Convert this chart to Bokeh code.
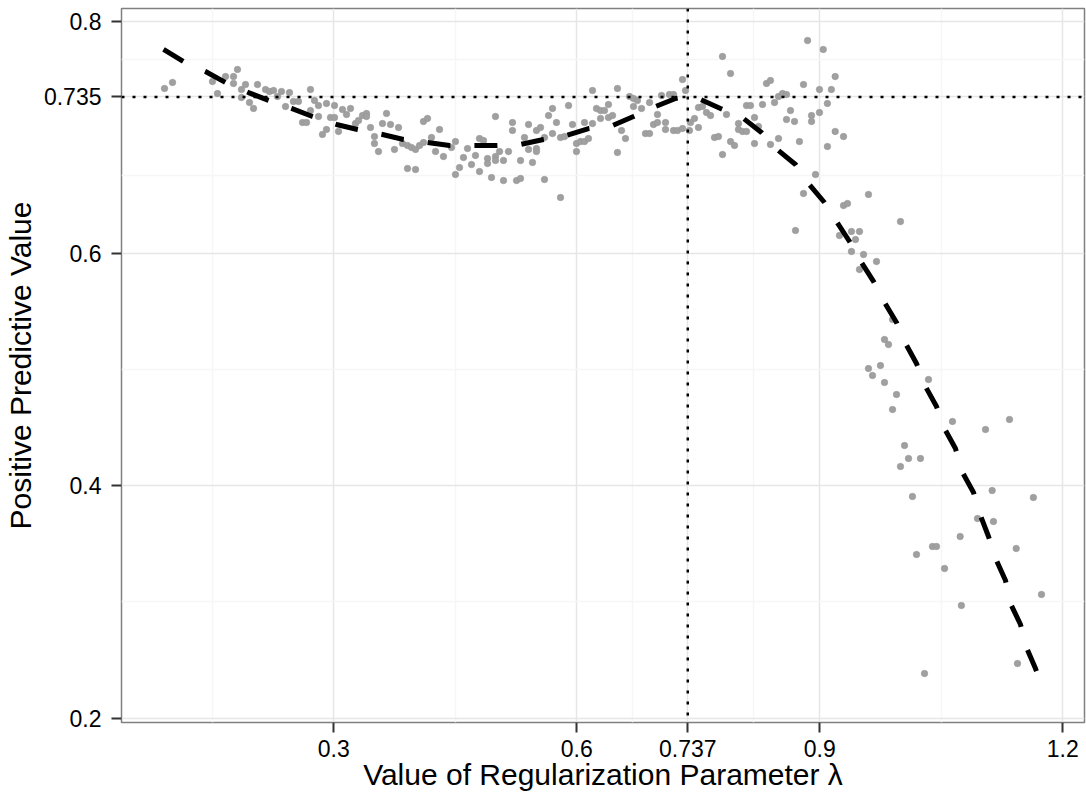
from bokeh.plotting import figure
from bokeh.models import FixedTicker, Span, Range1d, ColumnDataSource
from bokeh.embed import file_html
from bokeh.resources import INLINE

# ---- data ----
lam = [0.0910, 0.1009, 0.1502, 0.1564, 0.1663, 0.1762, 0.1811, 0.1762, 0.1860, 0.1910,
       0.1860, 0.1959, 0.2009, 0.2058, 0.2157, 0.2206, 0.2256, 0.2305, 0.2354, 0.2404,
       0.2453, 0.2502, 0.2564, 0.2614, 0.2663, 0.2712, 0.2762, 0.2712, 0.2811, 0.2811,
       0.2860, 0.2910, 0.2910, 0.2959, 0.3009, 0.3009, 0.3058, 0.3107, 0.3157, 0.3206,
       0.3268, 0.3305, 0.3354, 0.3404, 0.3404, 0.3453, 0.3502, 0.3502, 0.3552, 0.3601,
       0.3651, 0.3700, 0.3749, 0.3799, 0.3848, 0.3910, 0.3959, 0.4009, 0.3910, 0.4009,
       0.4058, 0.4107, 0.4107, 0.4157, 0.4206, 0.4256, 0.4305, 0.4354, 0.4453, 0.4502,
       0.4502, 0.4552, 0.4601, 0.4651, 0.4700, 0.4749, 0.4799, 0.4848, 0.4799, 0.4898,
       0.4898, 0.4947, 0.4996, 0.4996, 0.5046, 0.4996, 0.5095, 0.5095, 0.5157, 0.5206,
       0.5206, 0.5256, 0.5305, 0.5305, 0.5354, 0.5404, 0.5404, 0.5453, 0.5502, 0.5502,
       0.5502, 0.5552, 0.5601, 0.5601, 0.5651, 0.5700, 0.5700, 0.5749, 0.5799, 0.5799,
       0.5848, 0.5898, 0.5947, 0.5996, 0.5996, 0.6046, 0.6095, 0.6095, 0.6144, 0.6194,
       0.6194, 0.6243, 0.6293, 0.6293, 0.6342, 0.6391, 0.6391, 0.6441, 0.6502, 0.6502,
       0.6552, 0.6601, 0.6651, 0.6700, 0.6700, 0.6749, 0.6799, 0.6848, 0.6898, 0.6898,
       0.6947, 0.6996, 0.6996, 0.7046, 0.7095, 0.7095, 0.7144, 0.7194, 0.7194, 0.7243,
       0.7305, 0.7305, 0.7342, 0.7391, 0.7404, 0.7453, 0.7502, 0.7502, 0.7552, 0.7601,
       0.7651, 0.7700, 0.7749, 0.7799, 0.7799, 0.7848, 0.7898, 0.7898, 0.7947, 0.7996,
       0.7996, 0.8046, 0.8095, 0.8144, 0.8095, 0.8194, 0.8194, 0.8243, 0.8293, 0.8342,
       0.8391, 0.8391, 0.8441, 0.8490, 0.8490, 0.8540, 0.8589, 0.8589, 0.8638, 0.8688,
       0.8749, 0.8799, 0.8849, 0.8898, 0.8898, 0.8996, 0.8996, 0.9043, 0.9094, 0.9094,
       0.9143, 0.9190, 0.9190, 0.9293, 0.8947, 0.8799, 0.8700, 0.9601, 0.9293, 0.9342,
       0.9243, 0.9391, 0.9490, 0.9441, 0.9391, 0.9540, 0.9700, 0.9490, 0.9996, 0.9898,
       0.9799, 0.9848, 0.9601, 0.9749, 0.9651, 0.9799, 0.9947, 0.9898, 1.0342, 1.0046,
       1.0095, 1.0243, 0.9996, 1.0144, 1.0638, 1.1046, 1.1342, 1.1128, 1.1637, 1.0947,
       1.1144, 1.0733, 1.0391, 1.0441, 1.0194, 1.0540, 1.1425, 1.1737, 1.0748, 1.1441,
       1.0293]

ppv = [0.7423, 0.7475, 0.7483, 0.7380, 0.7526, 0.7526, 0.7587, 0.7466, 0.7414, 0.7457,
       0.7345, 0.7302, 0.7251, 0.7457, 0.7414, 0.7397, 0.7406, 0.7354, 0.7397, 0.7268,
       0.7388, 0.7311, 0.7311, 0.7130, 0.7130, 0.7414, 0.7320, 0.7233, 0.7276, 0.7182,
       0.7027, 0.7070, 0.7294, 0.7173, 0.7173, 0.7276, 0.7053, 0.7242, 0.7199, 0.7251,
       0.7121, 0.7147, 0.7190, 0.7208, 0.7182, 0.7087, 0.7009, 0.6949, 0.6880, 0.7121,
       0.7208, 0.7113, 0.6898, 0.7087, 0.6949, 0.6932, 0.6915, 0.6898, 0.6734, 0.6725,
       0.6932, 0.6958, 0.7139, 0.7165, 0.7001, 0.6880, 0.7070, 0.6837, 0.6915, 0.6966,
       0.6682, 0.6742, 0.6829, 0.6906, 0.6768, 0.6846, 0.6992, 0.6975, 0.6708, 0.6820,
       0.6777, 0.6656, 0.6837, 0.6803, 0.6880, 0.7182, 0.6803, 0.6630, 0.6880, 0.7130,
       0.7061, 0.6630, 0.6648, 0.6803, 0.7001, 0.7113, 0.6898, 0.6786, 0.7061, 0.6906,
       0.6880, 0.7087, 0.7001, 0.6639, 0.7190, 0.7251, 0.7035, 0.7130, 0.6484, 0.7001,
       0.7009, 0.7276, 0.7113, 0.6949, 0.6880, 0.6966, 0.6966, 0.7130, 0.6992, 0.7406,
       0.7121, 0.7251, 0.7233, 0.7165, 0.7233, 0.7285, 0.7173, 0.7190, 0.7423, 0.6872,
       0.7061, 0.6992, 0.7354, 0.7268, 0.7337, 0.7320, 0.7251, 0.7035, 0.7035, 0.7302,
       0.7113, 0.7199, 0.7130, 0.7363, 0.7130, 0.7070, 0.7371, 0.7371, 0.7061, 0.7061,
       0.7078, 0.7500, 0.7406, 0.7061, 0.7130, 0.7165, 0.7087, 0.7259, 0.7268, 0.7216,
       0.7190, 0.7001, 0.7009, 0.7699, 0.6854, 0.7199, 0.7552, 0.6966, 0.6932, 0.7121,
       0.7070, 0.7053, 0.7276, 0.7276, 0.7053, 0.7173, 0.6949, 0.7096, 0.7285, 0.7466,
       0.7492, 0.6941, 0.7302, 0.7354, 0.6992, 0.7380, 0.7371, 0.7156, 0.7233, 0.7139,
       0.6966, 0.7457, 0.7836, 0.7190, 0.7139, 0.7414, 0.7216, 0.7759, 0.7294, 0.6923,
       0.7414, 0.7526, 0.7053, 0.7009, 0.6682, 0.6519, 0.6200, 0.6510, 0.6415, 0.6432,
       0.6157, 0.6191, 0.6191, 0.6122, 0.6019, 0.5993, 0.5933, 0.5864, 0.6277, 0.5433,
       0.5261, 0.5218, 0.5011, 0.5037, 0.4951, 0.4891, 0.4787, 0.4658, 0.4916, 0.4348,
       0.4236, 0.4236, 0.4167, 0.3909, 0.4555, 0.4486, 0.4572, 0.3960, 0.3900, 0.3719,
       0.3693, 0.3564, 0.3478, 0.3478, 0.3409, 0.3289, 0.3461, 0.3065, 0.2970, 0.2470,
       0.2384]

smooth_lam = [0.0898, 0.1144, 0.1416, 0.1663, 0.1947, 0.2194, 0.2478, 0.2737, 0.3033, 0.3293,
              0.3601, 0.3861, 0.4157, 0.4429, 0.4737, 0.5009, 0.5305, 0.5589, 0.5873, 0.6145,
              0.6441, 0.6700, 0.6972, 0.7219, 0.7367, 0.7527, 0.7774, 0.8058, 0.8280, 0.8490,
              0.8700, 0.8860, 0.9058, 0.9206, 0.9367, 0.9515, 0.9663, 0.9799, 0.9947, 1.0058,
              1.0194, 1.0305, 1.0441, 1.0539, 1.0675, 1.0762, 1.0898, 1.0984, 1.1083, 1.1170,
              1.1293, 1.1354, 1.1478, 1.1552, 1.1663, 1.1774]
smooth_ppv = [0.7759, 0.7655, 0.7569, 0.7475, 0.7388, 0.7320, 0.7251, 0.7182, 0.7113, 0.7070,
              0.7027, 0.6984, 0.6958, 0.6932, 0.6932, 0.6932, 0.6941, 0.6984, 0.7018, 0.7078,
              0.7104, 0.7182, 0.7268, 0.7337, 0.7354, 0.7328, 0.7251, 0.7165, 0.7044, 0.6889,
              0.6768, 0.6605, 0.6441, 0.6277, 0.6105, 0.5924, 0.5761, 0.5580, 0.5407, 0.5227,
              0.5054, 0.4856, 0.4684, 0.4494, 0.4322, 0.4115, 0.3943, 0.3745, 0.3564, 0.3375,
              0.3185, 0.2987, 0.2806, 0.2608, 0.2427, 0.2220]

best_lambda = 0.737
best_ppv = 0.735

x_ticks = [0.3, 0.6, 0.737, 0.9, 1.2]
x_tick_labels = ["0.3", "0.6", "0.737", "0.9", "1.2"]
x_minor = [0.15, 0.45, 0.6685, 0.8185, 1.05]
y_ticks = [0.2, 0.4, 0.6, 0.735, 0.8]
y_tick_labels = ["0.2", "0.4", "0.6", "0.735", "0.8"]
y_minor = [0.3, 0.5, 0.6675, 0.7675]

FONT = "Liberation Sans"

p = figure(width=1086, height=798, output_backend="svg", toolbar_location=None,
           x_range=Range1d(0.0379, 1.2268), y_range=Range1d(0.1962, 0.8112),
           min_border_left=121, min_border_right=2, min_border_top=8, min_border_bottom=76,
           background_fill_color="white", border_fill_color="white")

p.outline_line_color = "#808080"
p.outline_line_width = 1.5

for ax, ticks, labels, minor in ((p.xaxis[0], x_ticks, x_tick_labels, x_minor),
                                 (p.yaxis[0], y_ticks, y_tick_labels, y_minor)):
    ax.ticker = FixedTicker(ticks=ticks, minor_ticks=minor)
    ax.major_label_overrides = {t: l for t, l in zip(ticks, labels)}
    ax.axis_line_color = None
    ax.major_tick_out = 10
    ax.major_tick_in = 0
    ax.major_tick_line_width = 2
    ax.major_tick_line_color = "#333333"
    ax.minor_tick_out = 0
    ax.minor_tick_in = 0
    ax.minor_tick_line_color = None
    ax.major_label_text_font = FONT
    ax.major_label_text_font_size = "23px"
    ax.major_label_text_color = "black"
    ax.axis_label_text_font = FONT
    ax.axis_label_text_font_size = "30px"
    ax.axis_label_text_font_style = "normal"
    ax.axis_label_text_color = "black"

p.xaxis.axis_label = "Value of Regularization Parameter λ"
p.yaxis.axis_label = "Positive Predictive Value"
p.xaxis.major_label_standoff = 7
p.xaxis.axis_label_standoff = -2
p.yaxis.major_label_standoff = 10
p.yaxis.axis_label_standoff = 4

for g in (p.xgrid[0], p.ygrid[0]):
    g.grid_line_color = "#e6e6e6"
    g.grid_line_width = 1.5
    g.minor_grid_line_color = "#f6f6f6"
    g.minor_grid_line_width = 1.5

src = ColumnDataSource(dict(lam=lam, ppv=ppv))
p.scatter("lam", "ppv", source=src, size=6.5, fill_color="#a0a0a0",
          line_color="#969696", line_width=0.6)

p.line(smooth_lam, smooth_ppv, line_color="black", line_width=5,
       line_dash="23 24", line_cap="butt")

p.add_layout(Span(location=best_lambda, dimension="height", line_color="black",
                  line_width=2.5, line_dash="3 8"))
p.add_layout(Span(location=best_ppv, dimension="width", line_color="black",
                  line_width=2.5, line_dash="3 8"))

open("out.html", "w").write(file_html(p, INLINE))
